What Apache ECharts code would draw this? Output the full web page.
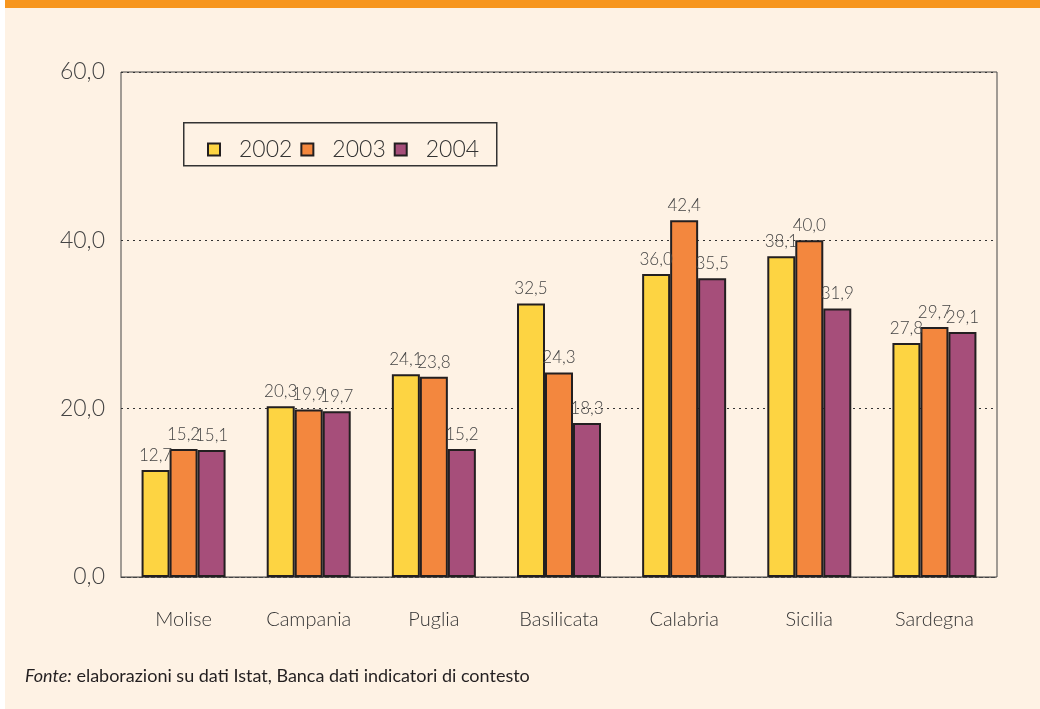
<!DOCTYPE html>
<html lang="it">
<head>
<meta charset="UTF-8">
<title>Regioni</title>
<style>
  html, body { margin: 0; padding: 0; background: #fff; }
  #chart { width: 1040px; height: 709px; }
</style>
</head>
<body>
<div id="chart"></div>
<script src="https://cdn.jsdelivr.net/npm/echarts@6/dist/echarts.min.js"></script>
<script>
var regioni = ['Molise', 'Campania', 'Puglia', 'Basilicata', 'Calabria', 'Sicilia', 'Sardegna'];
var anni = ['2002', '2003', '2004'];
var val2002 = [12.7, 20.3, 24.1, 32.5, 36.0, 38.1, 27.8];
var val2003 = [15.2, 19.9, 23.8, 24.3, 42.4, 40.0, 29.7];
var val2004 = [15.1, 19.7, 15.2, 18.3, 35.5, 31.9, 29.1];
var colori = ['#FDD442', '#F3873E', '#A64E7A'];

var font = 'Lato';
function virgola(v) { return v.toFixed(1).replace('.', ','); }

var chart = echarts.init(document.getElementById('chart'));
var serie = [val2002, val2003, val2004].map(function (d, i) {
  return {
    name: anni[i],
    type: 'bar',
    data: d,
    barWidth: 28,
    barGap: '0%',
    itemStyle: { color: colori[i], borderColor: '#231F20', borderWidth: 2 },
    label: {
      show: true, position: 'top', distance: 6,
      fontFamily: font, fontWeight: 300, fontSize: 17, color: '#444',
      formatter: function (p) { return virgola(p.value); }
    }
  };
});

chart.setOption({
  backgroundColor: '#FEF2E4',
  animation: false,
  color: colori,
  graphic: [
    { type: 'rect', left: 0, top: 0, shape: { width: 5, height: 709 }, style: { fill: '#fff' } },
    { type: 'rect', left: 5, top: 0, shape: { width: 1035, height: 8 }, style: { fill: '#F7961E' } },
    { type: 'rect', left: 183, top: 122, shape: { width: 313, height: 43 },
      style: { fill: '#FEF2E4', stroke: '#333', lineWidth: 1.5 }, z: 5 },
    { type: 'text', left: 25, top: 667, z: 10,
      style: {
        text: '{i|Fonte:} elaborazioni su dati Istat, Banca dati indicatori di contesto',
        font: '18px ' + font, fill: '#231F20',
        rich: { i: { fontStyle: 'italic', fontFamily: font, fontSize: 18, color: '#231F20' } }
      } }
  ],
  legend: {
    data: anni,
    left: 202, top: 133, z: 10,
    itemWidth: 12, itemHeight: 12, itemGap: 8,
    icon: 'rect',
    itemStyle: { borderColor: '#231F20', borderWidth: 2 },
    textStyle: { fontFamily: font, fontWeight: 300, fontSize: 23, color: '#333', padding: [0, 0, 0, 14] }
  },
  grid: { left: 121, right: 43, top: 72, bottom: 132, show: true, borderColor: '#444', borderWidth: 1, backgroundColor: 'transparent' },
  xAxis: {
    type: 'category',
    data: regioni,
    axisLine: { show: true, lineStyle: { color: '#444', type: 'dashed' } },
    axisTick: { show: false },
    axisLabel: { fontFamily: font, fontWeight: 300, fontSize: 20, color: '#333', margin: 33 }
  },
  yAxis: {
    type: 'value', min: 0, max: 60, interval: 20,
    axisLine: { show: false },
    axisTick: { show: false },
    splitLine: { show: true, lineStyle: { color: '#333', type: [2, 4], width: 1 } },
    axisLabel: { fontFamily: font, fontWeight: 300, fontSize: 23, color: '#444', margin: 16,
      formatter: function (v) { return virgola(v); } }
  },
  series: serie
});
</script>
</body>
</html>
